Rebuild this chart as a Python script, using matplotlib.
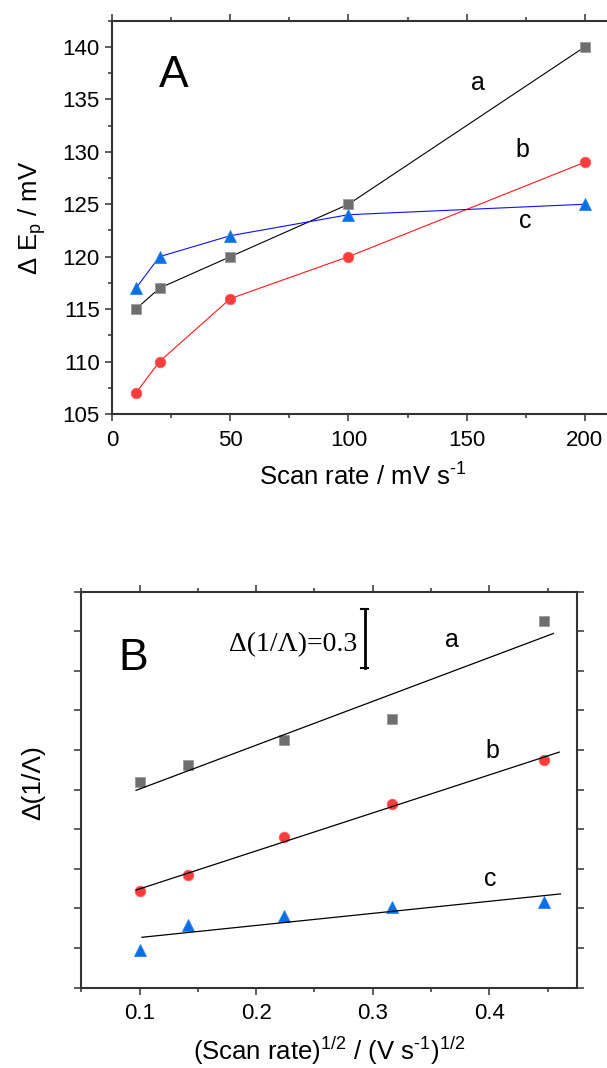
import numpy as np
import matplotlib
matplotlib.use("Agg")
import matplotlib.pyplot as plt
from matplotlib.ticker import MultipleLocator, NullFormatter

plt.rcParams["font.family"] = ["Liberation Sans", "DejaVu Sans"]
plt.rcParams["mathtext.fontset"] = "custom"
plt.rcParams["mathtext.rm"] = "Liberation Sans"
plt.rcParams["mathtext.it"] = "Liberation Sans:italic"

# panel A: peak separation vs scan rate (mV/s)
scan_rate = [10, 20, 50, 100, 200]
dEp_a = [115, 117, 120, 125, 140]
dEp_b = [107, 110, 116, 120, 129]
dEp_c = [117, 120, 122, 124, 125]

# panel B: delta(1/Lambda) vs sqrt(scan rate), arbitrary offsets
inv_a = [1.040, 1.125, 1.251, 1.359, 1.854]
inv_b = [0.488, 0.567, 0.761, 0.926, 1.150]
inv_c = [0.190, 0.316, 0.362, 0.409, 0.434]
fit_range_a = [0.097, 0.455]
fit_range_b = [0.097, 0.460]
fit_range_c = [0.102, 0.461]
scale_bar = 0.3

sqrt_rate = np.sqrt(np.array(scan_rate) / 1000.0)

SPINE = "#333333"
sq = dict(marker="s", ms=6.8, mfc="#6e6e6e", mec="#9a9a9a", mew=0.6)
ci = dict(marker="o", ms=7.6, mfc="#f83c3c", mec="#ff6060", mew=0.6)
tr = dict(marker="^", ms=8.2, mfc="#0a6fe2", mec="#2a85ee", mew=0.6)


def style_axes(ax):
    for s in ax.spines.values():
        s.set_linewidth(1.5)
        s.set_color(SPINE)
    ax.tick_params(which="both", direction="out", top=True, right=True,
                   color=SPINE, width=1.1, labelsize=16, pad=4)
    ax.tick_params(which="major", length=5.2)
    ax.tick_params(which="minor", length=2.6)


fig = plt.figure(figsize=(6.07, 10.68), dpi=100)

# ---- panel A
axA = fig.add_axes([0.185, 0.6124, 0.8249, 0.3682])
axA.plot(scan_rate, dEp_a, color="black", lw=0.8, **sq)
axA.plot(scan_rate, dEp_b, color="#ff1a1a", lw=0.8, **ci)
axA.plot(scan_rate, dEp_c, color="#1010ff", lw=0.8, **tr)
axA.set_xlim(0, 212)
axA.set_ylim(105, 142.5)
axA.xaxis.set_major_locator(MultipleLocator(50))
axA.xaxis.set_minor_locator(MultipleLocator(25))
axA.yaxis.set_major_locator(MultipleLocator(5))
axA.yaxis.set_minor_locator(MultipleLocator(2.5))
style_axes(axA)
axA.tick_params(axis="x", pad=6)
axA.set_xlabel(r"Scan rate / mV s$^{\text{-1}}$", fontsize=18.5, labelpad=9)
axA.set_ylabel(r"$\mathregular{\Delta\ E_p}$ / mV", fontsize=18.5, labelpad=10)
axA.text(26, 137.3, "A", fontsize=32, ha="center", va="center")
axA.text(155, 136.6, "a", fontsize=18, ha="center", va="center")
axA.text(173.5, 130.2, "b", fontsize=18, ha="center", va="center")
axA.text(175, 123.4, "c", fontsize=18, ha="center", va="center")

# ---- panel B
axB = fig.add_axes([0.1339, 0.0752, 0.8163, 0.3708])
for ys, st, rng in [(inv_a, sq, fit_range_a), (inv_b, ci, fit_range_b), (inv_c, tr, fit_range_c)]:
    axB.plot(sqrt_rate, ys, ls="none", **st)
    k, b0 = np.polyfit(sqrt_rate, ys, 1)
    xf = np.array(rng)
    axB.plot(xf, k * xf + b0, color="black", lw=0.9)
axB.set_xlim(0.05, 0.475)
axB.set_ylim(0, 2.0)
axB.xaxis.set_major_locator(MultipleLocator(0.1))
axB.xaxis.set_minor_locator(MultipleLocator(0.05))
axB.yaxis.set_major_locator(MultipleLocator(0.2))
axB.yaxis.set_major_formatter(NullFormatter())
style_axes(axB)
axB.tick_params(axis="x", pad=6)
axB.set_xlabel(r"(Scan rate)$^{\mathregular{1/2}}$ / (V s$^{\text{-1}}$)$^{\mathregular{1/2}}$",
               fontsize=18.5, labelpad=8)
axB.set_ylabel("Δ(1/Λ)", fontsize=19)
axB.yaxis.set_label_coords(-0.072, 0.517)

# scale bar
bx, by = 0.2931, 1.613
axB.plot([bx, bx], [by, by + scale_bar], color="black", lw=2)
axB.plot([bx - 0.003, bx + 0.003], [by, by], color="black", lw=1.5)
axB.plot([bx - 0.003, bx + 0.003], [by + scale_bar, by + scale_bar], color="black", lw=1.5)
axB.text(0.2871, 1.735, "Δ(1/Λ)=0.3", family=["Liberation Serif", "DejaVu Serif"],
         fontsize=20, ha="right", va="center")

axB.text(0.0949, 1.665, "B", fontsize=32, ha="center", va="center")
axB.text(0.3676, 1.756, "a", fontsize=18, ha="center", va="center")
axB.text(0.4026, 1.197, "b", fontsize=18, ha="center", va="center")
axB.text(0.4009, 0.549, "c", fontsize=18, ha="center", va="center")

fig.savefig("out.png", dpi=100)
